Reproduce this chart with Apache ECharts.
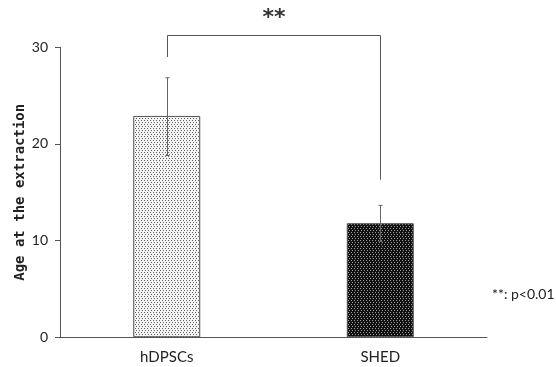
<!DOCTYPE html>
<html><head><meta charset="utf-8">
<script src="https://cdn.jsdelivr.net/npm/echarts@6/dist/echarts.min.js"></script>
<style>html,body{margin:0;padding:0;background:#fff}#c{width:556px;height:367px}</style>
</head><body><div id="c"></div>
<script>
const categories = ['hDPSCs', 'SHED'];
const means = [22.9, 11.8];
const errUpper = [26.85, 13.65];
const errLower = [18.8, 9.9];
const yTicks = [0, 10, 20, 30];
const bracketLeftStart = 29.0;
const bracketTop = 31.3;
const bracketRightStart = 16.3;
const sigText = '**';
const noteText = '**: p<0.01';

function makePattern(bg, dot) {
  const c = document.createElement('canvas');
  c.width = 6; c.height = 4;
  const g = c.getContext('2d');
  g.fillStyle = bg; g.fillRect(0, 0, 6, 4);
  g.fillStyle = dot;
  [[0,0],[3,0],[1,2],[4,2]].forEach(p => g.fillRect(p[0], p[1], 1, 1));
  return c;
}
const patLight = makePattern('#f4f4f4', '#5e5e5e');
const patDark = makePattern('#111111', '#a0a0a0');

const chart = echarts.init(document.getElementById('c'), null, {renderer: 'canvas'});
chart.setOption({
  animation: false,
  backgroundColor: '#fff',
  grid: {left: 60, right: 69, top: 47.3, bottom: 29.7},
  xAxis: {
    type: 'category', data: categories,
    axisLine: {lineStyle: {color: '#555', width: 1}},
    axisTick: {show: false},
    axisLabel: {color: '#222', fontSize: 15, fontFamily: 'Lato', margin: 12}
  },
  yAxis: {
    type: 'value', min: 0, max: 30, interval: 10,
    name: 'Age at the extraction', nameLocation: 'middle', nameRotate: 90, nameGap: 33,
    nameMoveOverlap: false,
    nameTextStyle: {fontFamily: 'DejaVu Sans Mono', fontWeight: 'bold', fontSize: 14, color: '#222'},
    axisLine: {show: true, lineStyle: {color: '#555', width: 1}},
    axisTick: {show: true, length: 5, lineStyle: {color: '#555'}},
    splitLine: {show: false},
    axisLabel: {color: '#222', fontSize: 14, fontFamily: 'Lato', margin: 12,
      formatter: v => yTicks.includes(v) ? String(v) : ''}
  },
  series: [
    {
      type: 'bar', barWidth: 67,
      data: means.map((v, i) => ({value: v, itemStyle: {
        color: {image: i === 0 ? patLight : patDark, repeat: 'repeat'},
        borderColor: '#555', borderWidth: 1}})),
      z: 2
    },
    {
      type: 'custom', z: 3, clip: false,
      data: categories.map((c, i) => [i, errLower[i], errUpper[i]]),
      renderItem: (params, api) => {
        const x = api.value(0);
        const lo = api.coord([x, api.value(1)]);
        const hi = api.coord([x, api.value(2)]);
        const cx = Math.round(lo[0]) + 0.5;
        return {type: 'group', children: [
          {type: 'line', shape: {x1: cx, y1: lo[1], x2: cx, y2: hi[1]}, style: {stroke: '#666', lineWidth: 1}},
          {type: 'line', shape: {x1: cx - 2, y1: hi[1], x2: cx + 2, y2: hi[1]}, style: {stroke: '#666', lineWidth: 1}},
          {type: 'line', shape: {x1: cx - 2, y1: lo[1], x2: cx + 2, y2: lo[1]}, style: {stroke: '#666', lineWidth: 1}}
        ]};
      }
    },
    {
      type: 'custom', z: 3, clip: false,
      data: [[0, 1, bracketLeftStart, bracketTop, bracketRightStart]],
      renderItem: (params, api) => {
        const a = api.coord([0, api.value(2)]);
        const t = api.coord([0, api.value(3)]);
        const b = api.coord([1, api.value(3)]);
        const r = api.coord([1, api.value(4)]);
        const xl = Math.round(a[0]) + 0.5, xr = Math.round(b[0]) + 0.5, yt = Math.round(t[1]) + 0.5;
        return {type: 'group', children: [
          {type: 'polyline', shape: {points: [[xl, a[1]], [xl, yt], [xr, yt], [xr, r[1]]]}, style: {stroke: '#555', lineWidth: 1, fill: null}},
          {type: 'text', style: {text: sigText, x: (xl + xr) / 2, y: yt - 6, align: 'center', verticalAlign: 'bottom', fontSize: 22, fontWeight: 'bold', fontFamily: 'DejaVu Sans', fill: '#333'}}
        ]};
      }
    }
  ],
  graphic: [
    {type: 'text', left: 492, top: 287, style: {text: noteText, fontSize: 14, fontFamily: 'Lato', fill: '#222'}}
  ]
});
</script></body></html>
